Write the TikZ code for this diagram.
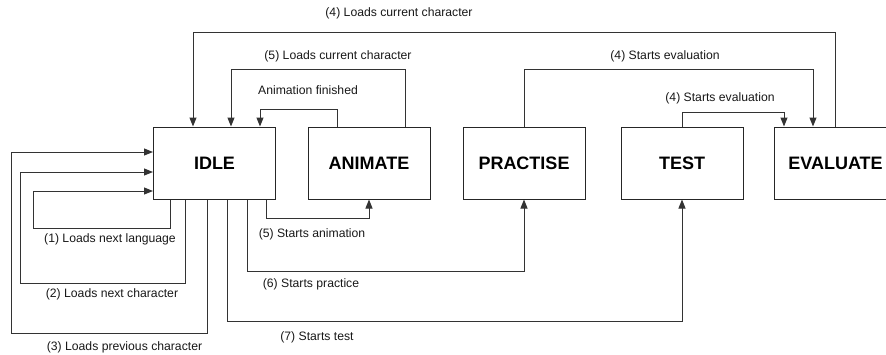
\documentclass[tikz,border=0pt]{standalone}
\usepackage{fontspec}
\setmainfont{Liberation Sans}
\usetikzlibrary{arrows.meta}
\tikzset{
  state/.style={draw=black!85, line width=1pt, minimum width=122pt, minimum height=72pt,
    inner sep=0pt, font=\bfseries\fontsize{18}{20}\selectfont},
  link/.style={draw=black!80, line width=1pt},
  arr/.style={link, -{Triangle[length=9pt,width=7pt]}},
  lbl/.style={font=\fontsize{12.2}{14}\selectfont, text=black!90, inner sep=0pt}
}
\begin{document}
\begin{tikzpicture}[x=1pt, y=-1pt]
\useasboundingbox (0,0) rectangle (886,354);
\fill[white] (0,0) rectangle (886,354);
\clip (0,0) rectangle (886,354);

% states
\node[state] (idle) at (214.5,163) {IDLE};
\node[state] (anim) at (369,163) {ANIMATE};
\node[state] (prac) at (524,163) {PRACTISE};
\node[state] (test) at (682,163) {TEST};
\node[state] (eval) at (835.5,163) {EVALUATE};

% self loops on IDLE
\draw[arr] (idle.south -| 170,0) |- (33,228) |- (idle.west |- 0,191);
\draw[arr] (idle.south -| 185,0) |- (20,283) |- (idle.west |- 0,172);
\draw[arr] (idle.south -| 207,0) |- (11,333) |- (idle.west |- 0,152);
\node[lbl] (l1) at (110,239) {(1) Loads next language};
\node[lbl] (l2) at (112,294) {(2) Loads next character};
\node[lbl] (l3) at (124.5,347) {(3) Loads previous character};

% transitions out of IDLE
\draw[arr] (idle.south -| 266,0) |- (anim.south |- 0,218) -- (anim.south);
\draw[arr] (idle.south -| 247,0) |- (prac.south |- 0,271) -- (prac.south);
\draw[arr] (idle.south -| 227,0) |- (test.south |- 0,321) -- (test.south);
\node[lbl] (l5a) at (312,234) {(5) Starts animation};
\node[lbl] (l6) at (311,284) {(6) Starts practice};
\node[lbl] (l7) at (317,337) {(7) Starts test};

% transitions back to IDLE
\draw[arr] (eval.north) |- (193,32) -- (idle.north -| 193,0);
\draw[arr] (anim.north -| 405,0) |- (231,69) -- (idle.north -| 231,0);
\draw[arr] (anim.north -| 337,0) |- (260,109) -- (idle.north -| 260,0);
\node[lbl] (l4) at (399,13) {(4) Loads current character};
\node[lbl] (l5b) at (338,56) {(5) Loads current character};
\node[lbl] (lf) at (308,90) {Animation finished};

% transitions into EVALUATE
\draw[arr] (prac.north) |- (813,69) -- (eval.north -| 813,0);
\draw[arr] (test.north) |- (784,112) -- (eval.north -| 784,0);
\node[lbl] (le1) at (665,56) {(4) Starts evaluation};
\node[lbl] (le2) at (720,98) {(4) Starts evaluation};
\end{tikzpicture}
\end{document}
